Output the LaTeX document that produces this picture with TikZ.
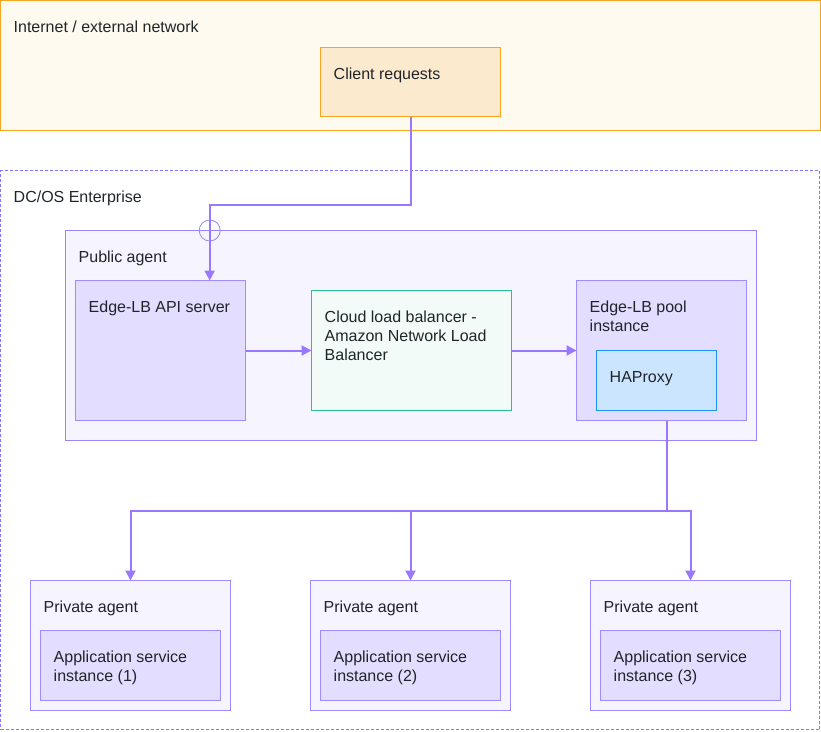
\documentclass[tikz,border=0pt]{standalone}
\usepackage{fontspec}
\setmainfont{Liberation Sans}
\usetikzlibrary{arrows.meta}
\definecolor{inetfill}{RGB}{255,250,240}
\definecolor{lineorange}{RGB}{245,166,35}
\definecolor{clientfill}{RGB}{252,234,207}
\definecolor{dcosline}{RGB}{130,117,255}
\definecolor{agentfill}{RGB}{246,244,255}
\definecolor{agentline}{RGB}{150,135,255}
\definecolor{innerfill}{RGB}{227,221,255}
\definecolor{innerline}{RGB}{160,140,255}
\definecolor{cloudfill}{RGB}{242,251,248}
\definecolor{cloudline}{RGB}{40,195,140}
\definecolor{haproxyfill}{RGB}{204,229,255}
\definecolor{haproxyline}{RGB}{30,144,255}
\definecolor{connpurple}{RGB}{153,119,255}
\definecolor{textgray}{RGB}{33,37,41}

\begin{document}
\begin{tikzpicture}[x=1pt,y=-1pt,font=\fontsize{16}{19}\selectfont,
  box/.style={draw,inner sep=0pt,outer sep=0pt,anchor=north west,line width=1pt},
  ttl/.style={anchor=base west,inner sep=0pt,xshift=13pt,yshift=-31.5pt,align=left,text=textgray},
  ttltwo/.style={ttl,yshift=-19pt},
  ttlthree/.style={ttl,yshift=-38pt},
  conn/.style={draw=connpurple,line width=2pt,-{Triangle[width=10pt,length=10pt]}}]
  \useasboundingbox (0,0) rectangle (821,731);
  \node[box,draw=lineorange,fill=inetfill,minimum width=820pt,minimum height=130pt,label={[ttl]north west:Internet / external network}] (inet) at (0.5,0.5) {};
  \node[box,draw=lineorange,fill=clientfill,minimum width=180pt,minimum height=69pt,label={[ttl]north west:Client requests}] (client) at (320.5,47.5) {};
  \node[box,draw=dcosline,dash pattern=on 3pt off 2pt,minimum width=819pt,minimum height=559pt,label={[ttl]north west:DC/OS Enterprise}] (dcos) at (0.5,170.5) {};
  \node[box,draw=agentline,fill=agentfill,minimum width=691pt,minimum height=210pt,label={[ttl]north west:Public agent}] (public) at (65.5,230.5) {};
  \node[box,draw=innerline,fill=innerfill,minimum width=170pt,minimum height=140pt,label={[ttl]north west:Edge-LB API server}] (api) at (75.5,280.5) {};
  \node[box,draw=cloudline,fill=cloudfill,minimum width=200pt,minimum height=120pt,label={[ttlthree]north west:{Cloud load balancer -\\Amazon Network Load\\Balancer}}] (cloud) at (311.5,290.5) {};
  \node[box,draw=innerline,fill=innerfill,minimum width=170pt,minimum height=140pt,label={[ttltwo]north west:{Edge-LB pool\\instance}}] (pool) at (576.5,280.5) {};
  \node[box,draw=haproxyline,fill=haproxyfill,minimum width=120pt,minimum height=60pt,label={[ttl]north west:HAProxy}] (haproxy) at (596.5,350.5) {};
  \foreach \i/\x in {1/30.5,2/310.5,3/590.5} {
    \node[box,draw=innerline,fill=agentfill,minimum width=200pt,minimum height=130pt,label={[ttl]north west:Private agent}] (priv\i) at (\x,580.5) {};
    \node[box,draw=innerline,fill=innerfill,minimum width=180pt,minimum height=70pt,label={[ttltwo]north west:{Application service\\instance (\i)}}] (app\i) at (\x+10,630.5) {};
  }
  \coordinate (jog) at (209.7,205.3);
  \node[circle,draw=agentline,line width=0.8pt,minimum size=21pt,inner sep=0pt] (hop) at (209.7,230.5) {};
  \draw[conn] (client.south) |- (jog) -- (jog |- api.north);
  \draw[conn] (api) -- (cloud);
  \draw[conn] (cloud) -- (pool);
  \coordinate (fork) at (666.7,510.7);
  \draw[conn,-] (pool.south -| fork) -- (fork);
  \foreach \i in {1,2,3}
    \draw[conn] (fork) -| (priv\i.north);
\end{tikzpicture}
\end{document}
